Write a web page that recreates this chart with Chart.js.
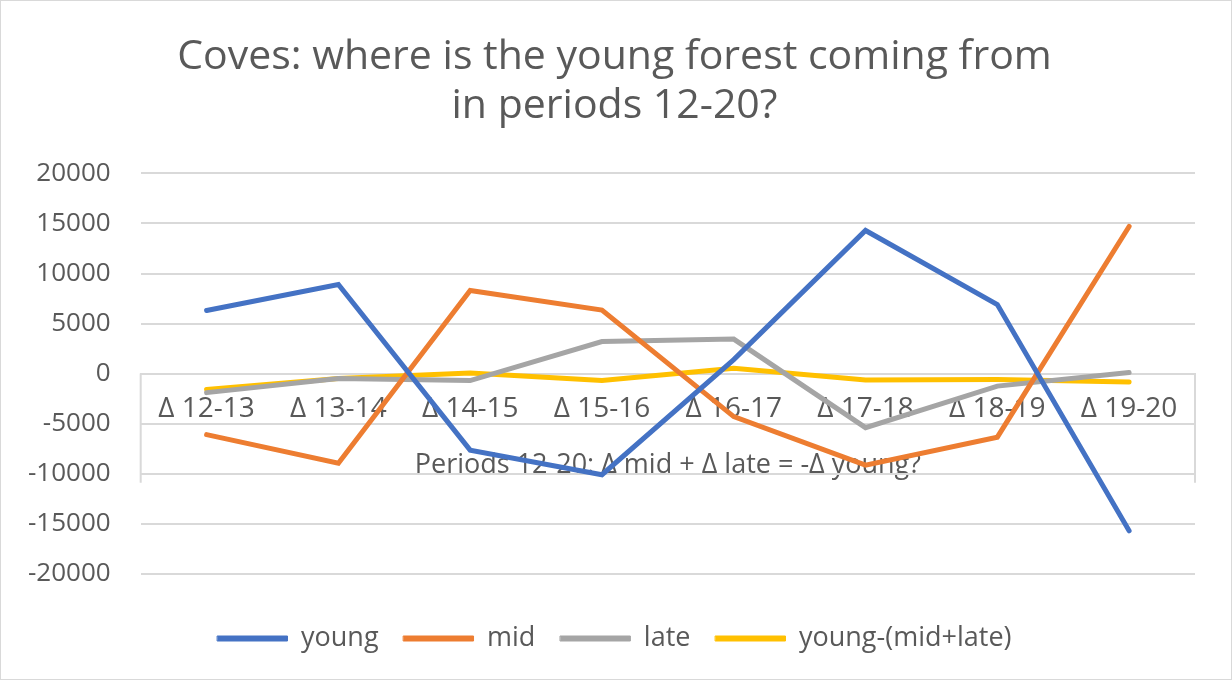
<!DOCTYPE html>
<html>
<head>
<meta charset="utf-8">
<script src="https://cdn.jsdelivr.net/npm/chart.js@4"></script>
<style>
  html, body { margin: 0; padding: 0; background: #fff; }
  #wrap { width: 1230px; height: 678px; border: 1px solid #d9d9d9; }
</style>
</head>
<body>
<div id="wrap"><canvas id="grafico" width="1230" height="678"></canvas></div>
<script>
const periodos = ['Δ 12-13', 'Δ 13-14', 'Δ 14-15', 'Δ 15-16', 'Δ 16-17', 'Δ 17-18', 'Δ 18-19', 'Δ 19-20'];
const young = [6300, 8900, -7650, -10100, 1400, 14300, 6900, -15700];
const mid = [-6100, -8950, 8300, 6350, -4300, -9150, -6350, 14700];
const late = [-1900, -500, -700, 3200, 3450, -5400, -1250, 100];
const youngMinusMidLate = [-1600, -500, 50, -700, 530, -630, -600, -850];
const yTicks = [-20000, -15000, -10000, -5000, 0, 5000, 10000, 15000, 20000];

const gris = '#595959';
const fuente = "'Open Sans', sans-serif";

// lineas verticales del cuadro bajo el eje (como en el original)
const cuadroEje = {
  id: 'cuadroEje',
  beforeDatasetsDraw(chart) {
    const { ctx, chartArea, scales } = chart;
    const y0 = scales.y.getPixelForValue(0);
    const y1 = scales.y.getPixelForValue(-10900);
    ctx.save();
    ctx.strokeStyle = '#d9d9d9';
    ctx.lineWidth = 2;
    ctx.beginPath();
    ctx.moveTo(chartArea.left, y0);
    ctx.lineTo(chartArea.left, y1);
    ctx.moveTo(chartArea.right, y0);
    ctx.lineTo(chartArea.right, y1);
    ctx.stroke();
    ctx.restore();
  }
};

function serie(label, data, color) {
  return {
    label: label,
    data: data,
    borderColor: color,
    backgroundColor: color,
    borderWidth: 5,
    pointRadius: 0,
    tension: 0,
    borderCapStyle: 'round'
  };
}

const ctx = document.getElementById('grafico').getContext('2d');
new Chart(ctx, {
  type: 'line',
  data: {
    labels: periodos,
    datasets: [
      serie('young', young, '#4472C4'),
      serie('mid', mid, '#ED7D31'),
      serie('late', late, '#A5A5A5'),
      serie('young-(mid+late)', youngMinusMidLate, '#FFC000')
    ]
  },
  options: {
    responsive: false,
    animation: false,
    layout: { padding: { left: -3, right: 0, top: 22, bottom: 17 } },
    plugins: {
      title: {
        display: true,
        text: ['Coves: where is the young forest coming from', 'in periods 12-20?'],
        color: gris,
        font: { family: fuente, size: 41, weight: 'normal' },
        lineHeight: 1.1,
        padding: { top: 10, bottom: 42 }
      },
      legend: {
        position: 'bottom',
        title: { display: true, text: ' ', font: { size: 1 }, padding: { top: 0, bottom: 25 } },
        labels: {
          color: gris,
          font: { family: fuente, size: 27 },
          boxWidth: 70,
          boxHeight: 5,
          padding: 25,
          generateLabels(chart) {
            return Chart.defaults.plugins.legend.labels.generateLabels(chart).map(l => {
              l.lineWidth = 1;
              return l;
            });
          }
        }
      },
      tooltip: { enabled: false }
    },
    scales: {
      x: {
        position: { y: 0 },
        offset: true,
        grid: { display: false, drawTicks: false },
        border: { display: true, color: '#d9d9d9', width: 2 },
        ticks: { color: gris, font: { family: fuente, size: 28 }, padding: 19, maxRotation: 0 },
        title: {
          display: true,
          text: 'Periods 12-20: Δ mid + Δ late = -Δ young?',
          color: gris,
          font: { family: fuente, size: 27 },
          padding: { top: 4, bottom: 0 }
        }
      },
      y: {
        min: -20000,
        max: 20000,
        afterBuildTicks(axis) { axis.ticks = yTicks.map(v => ({ value: v })); },
        grid: { color: '#d9d9d9', lineWidth: 2, drawTicks: false },
        border: { display: false },
        ticks: {
          color: gris,
          font: { family: fuente, size: 26 },
          padding: 30,
          callback: v => String(v)
        }
      },
      // eje vacio a la derecha, solo reserva margen
      margenDer: {
        position: 'right',
        display: true,
        grid: { display: false, drawTicks: false },
        border: { display: false },
        ticks: { display: false },
        afterFit(s) { s.width = 36; }
      }
    }
  },
  plugins: [cuadroEje]
});
</script>
</body>
</html>
